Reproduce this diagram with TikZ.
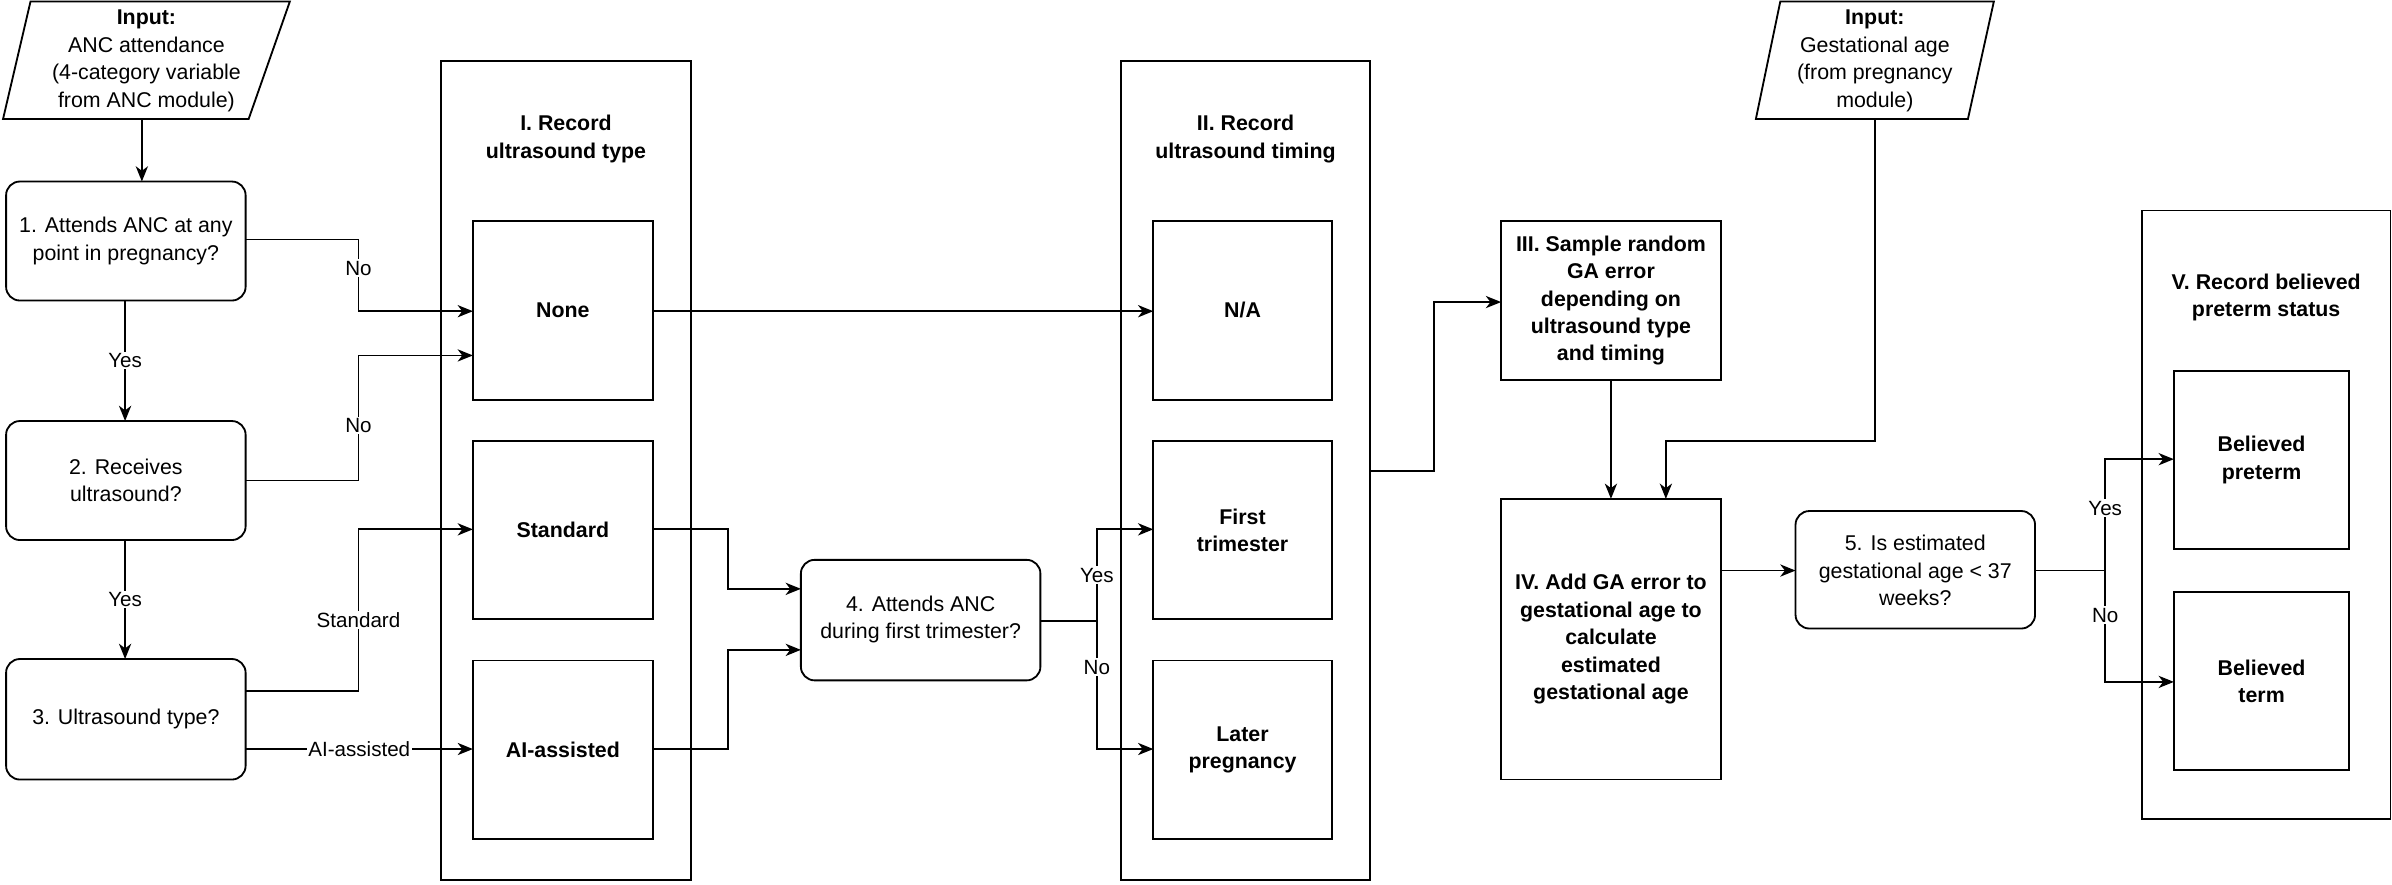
\documentclass[tikz,border=0pt]{standalone}
\usepackage{fontspec}
\setmainfont{Liberation Sans}
\usetikzlibrary{arrows.meta,shapes.geometric}
\begin{document}
\begin{tikzpicture}[x=1pt,y=-1pt,
  every node/.style={font=\fontsize{14}{18}\selectfont, align=center, inner sep=0pt},
  box/.style={draw, line width=1.2pt, minimum width=#1},
  rbox/.style={draw, line width=1.2pt, rounded corners=9pt},
  bold/.style={font=\fontsize{14}{18}\selectfont\bfseries},
  lab/.style={fill=white, font=\fontsize{13.5}{16}\selectfont, inner sep=1pt},
  arr/.style={line width=1.2pt, -{Stealth[length=10pt,width=8pt,inset=3pt]}},
  ln/.style={line width=1.2pt}]
\useasboundingbox (0,0) rectangle (1568,580);
\fill[white] (0,0) rectangle (1568,580);
% input parallelograms
\draw[ln] (20,1) -- (190,1) -- (163,78) -- (2,78) -- cycle;
\node (in1) at (96,40) {\textbf{Input:}\\ANC attendance\\(4-category variable\\from ANC module)};
\coordinate (in1b) at (93,78);
\draw[ln] (1167,1) -- (1307,1) -- (1290,78) -- (1151,78) -- cycle;
\node (in2) at (1229,40) {\textbf{Input:}\\Gestational age\\(from pregnancy\\module)};
\coordinate (in2b) at (1229,78);
% decision nodes
\draw[rbox] (4,119) rectangle (161,197); \node (d1) at (82.5,158) {1. Attends ANC at any\\point in pregnancy?};
\draw[rbox] (4,276) rectangle (161,354); \node (d2) at (82.5,315) {2. Receives\\ultrasound?};
\draw[rbox] (4,432) rectangle (161,511); \node (d3) at (82.5,471) {3. Ultrasound type?};
\draw[rbox] (525,367) rectangle (682,446); \node (d4) at (603.5,406) {4. Attends ANC\\during first trimester?};
\draw[rbox] (1177,335) rectangle (1334,412); \node (d5) at (1255.5,374) {5. Is estimated\\gestational age < 37\\weeks?};
% big boxes
\draw[ln] (289,40) rectangle (453,577);
\node[bold] at (371,91) {I. Record\\ultrasound type};
\draw[ln] (735,40) rectangle (898,577);
\node[bold] at (816.5,91) {II. Record\\ultrasound timing};
\draw[ln] (1404,138) rectangle (1567,537);
\node[bold] at (1485.5,195) {V. Record believed\\preterm status};
% inner boxes
\draw[ln] (310,145) rectangle (428,262); \node[bold] (none) at (369,203.5) {None};
\draw[ln] (310,289) rectangle (428,406); \node[bold] (std) at (369,347.5) {Standard};
\draw[ln] (310,433) rectangle (428,550); \node[bold] (ai) at (369,491.5) {AI-assisted};
\draw[ln] (756,145) rectangle (873,262); \node[bold] (na) at (814.5,203.5) {N/A};
\draw[ln] (756,289) rectangle (873,406); \node[bold] (first) at (814.5,347.5) {First\\trimester};
\draw[ln] (756,433) rectangle (873,550); \node[bold] (later) at (814.5,491.5) {Later\\pregnancy};
\draw[ln] (984,145) rectangle (1128,249); \node[bold] (s3) at (1056,197) {III. Sample random\\GA error\\depending on\\ultrasound type\\and timing};
\draw[ln] (984,327) rectangle (1128,511); \node[bold] (s4) at (1056,419) {IV. Add GA error to\\gestational age to\\calculate\\estimated\\gestational age};
\draw[ln] (1425,243) rectangle (1540,360); \node[bold] (bp) at (1482.5,301.5) {Believed\\preterm};
\draw[ln] (1425,388) rectangle (1540,505); \node[bold] (bt) at (1482.5,446.5) {Believed\\term};
% connectors
\draw[arr] (in1b) -- (93,119);
\draw[arr] (82,197) -- node[lab]{Yes} (82,276);
\draw[arr] (82,354) -- node[lab]{Yes} (82,432);
\draw[arr] (161,157) -| (235,204) node[lab,pos=0.7]{No} -- (310,204);
\draw[arr] (161,315) -| (235,233) node[lab,pos=0.72]{No} -- (310,233);
\draw[arr] (161,453) -| (235,347) node[lab,pos=0.72]{Standard} -- (310,347);
\draw[arr] (161,491) -- node[lab]{AI-assisted} (310,491);
\draw[arr] (428,204) -- (756,204);
\draw[arr] (428,347) -| (477,386) -- (525,386);
\draw[arr] (428,491) -| (477,426) -- (525,426);
\draw[arr] (682,407) -| (719,347) node[lab,pos=0.75]{Yes} -- (756,347);
\draw[arr] (682,407) -| (719,491) node[lab,pos=0.68]{No} -- (756,491);
\draw[arr] (898,309) -| (940,198) -- (984,198);
\draw[arr] (1056,249) -- (1056,327);
\draw[arr] (in2b) -- (1229,289) -| (1092,327);
\draw[arr] (1128,374) -- (1177,374);
\draw[arr] (1334,374) -| (1380,301) node[lab,pos=0.78]{Yes} -- (1425,301);
\draw[arr] (1334,374) -| (1380,447) node[lab,pos=0.7]{No} -- (1425,447);
\end{tikzpicture}
\end{document}
